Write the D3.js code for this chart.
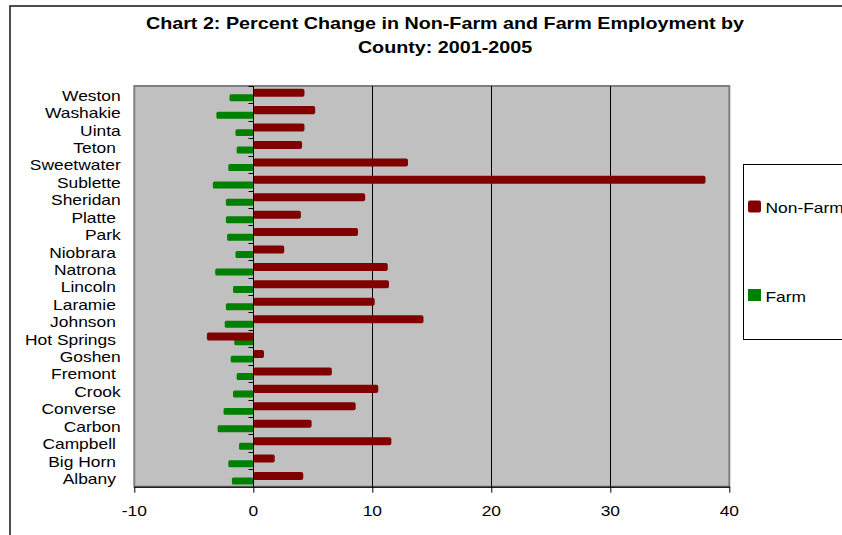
<!DOCTYPE html>
<html><head><meta charset="utf-8">
<script src="https://cdn.jsdelivr.net/npm/d3@7"></script>
<style>
body{margin:0;background:#fff}
svg{display:block}
text{font-family:"Liberation Sans",Arial,sans-serif;white-space:pre;fill:#000}
</style>
</head><body><div id="chart"></div>
<script>
// Data (top to bottom as shown)
const categories = ["Weston","Washakie","Uinta","Teton ","Sweetwater","Sublette","Sheridan","Platte ","Park","Niobrara ","Natrona ","Lincoln ","Laramie ","Johnson ","Hot Springs ","Goshen","Fremont ","Crook","Converse ","Carbon","Campbell ","Big Horn ","Albany "];
const nonFarm = [4.3,5.2,4.3,4.1,13.0,38.0,9.4,4.0,8.8,2.6,11.3,11.4,10.2,14.3,-3.9,0.9,6.6,10.5,8.6,4.9,11.6,1.8,4.2];
const farm = [-2.0,-3.1,-1.5,-1.4,-2.1,-3.4,-2.3,-2.3,-2.2,-1.5,-3.2,-1.7,-2.3,-2.4,-1.6,-1.9,-1.4,-1.7,-2.5,-3.0,-1.2,-2.1,-1.8];
const xTicks = [-10,0,10,20,30,40];
const seriesNames = ["Non-Farm","Farm"];
const seriesColors = ["#800000","#008000"];
const titleLines = ["Chart 2: Percent Change in Non-Farm and Farm Employment by","County: 2001-2005"];

const W = 842, H = 535, SX = 1.16;
const svg = d3.select("#chart").append("svg").attr("width", W).attr("height", H);
svg.append("rect").attr("width", W).attr("height", H).attr("fill", "#fff");

// outer chart frame
svg.append("rect").attr("x", 10).attr("y", 6).attr("width", 1000).attr("height", 700)
  .attr("fill", "none").attr("stroke", "#222").attr("stroke-width", 1.6);

const x = d3.scaleLinear().domain([-10, 40]).range([134.3, 729.3]);
const y = d3.scaleBand().domain(categories).range([86, 486.7]);
const bw = y.bandwidth();

function stext(str, tx, ty, anchor, size, weight) {
  return svg.append("text")
    .attr("transform", `translate(${tx},${ty}) scale(${SX},1)`)
    .attr("xml:space", "preserve")
    .attr("text-anchor", anchor)
    .attr("font-size", size)
    .attr("font-weight", weight || "normal")
    .text(str);
}

// title
titleLines.forEach((t, i) => stext(t, 445, 29 + i * 24, "middle", 17, "bold"));

// plot area
const [px0, px1] = x.range();
const [py0, py1] = y.range();
svg.append("rect").attr("x", px0).attr("y", py0).attr("width", px1 - px0).attr("height", py1 - py0)
  .attr("fill", "#C0C0C0").attr("stroke", "#808080").attr("stroke-width", 2);

// gridlines
svg.append("g").selectAll("line").data(xTicks.filter(d => d > 0 && d < 40)).join("line")
  .attr("x1", d => Math.round(x(d)) + 0.5).attr("x2", d => Math.round(x(d)) + 0.5)
  .attr("y1", py0).attr("y2", py1).attr("stroke", "#000").attr("stroke-width", 1);

// bars: farm first, non-farm on top
const rows = categories.map((c, i) => ({c, nf: nonFarm[i], f: farm[i]}));
svg.append("g").selectAll("rect").data(rows).join("rect")
  .attr("x", d => x(Math.min(0, d.f))).attr("width", d => Math.abs(x(d.f) - x(0)))
  .attr("y", d => y(d.c) + 0.477 * bw).attr("height", 0.40 * bw)
  .attr("rx", 1.5).attr("fill", seriesColors[1]);
svg.append("g").selectAll("rect").data(rows).join("rect")
  .attr("x", d => x(Math.min(0, d.nf))).attr("width", d => Math.abs(x(d.nf) - x(0)))
  .attr("y", d => y(d.c) + 0.155 * bw).attr("height", 0.46 * bw)
  .attr("rx", 2).attr("fill", seriesColors[0]);

// category axis at zero
const zx = Math.round(x(0)) + 0.5;
svg.append("line").attr("x1", zx).attr("x2", zx).attr("y1", py0).attr("y2", py1)
  .attr("stroke", "#000").attr("stroke-width", 1);
const bounds = categories.map(c => y(c)).concat([py1]);
svg.append("g").selectAll("line").data(bounds).join("line")
  .attr("x1", zx - 5).attr("x2", zx).attr("y1", d => Math.round(d) + 0.5).attr("y2", d => Math.round(d) + 0.5)
  .attr("stroke", "#000").attr("stroke-width", 1);

// category labels
categories.forEach(c => stext(c, 120.7, y(c) + bw / 2 + 6, "end", 15));

// value axis
const ax = svg.append("g").attr("transform", `translate(0,${py1})`)
  .call(d3.axisBottom(x).tickValues(xTicks).tickSize(6).tickSizeOuter(0).tickFormat(() => ""));
ax.select(".domain").attr("stroke", "#222").attr("stroke-width", 1.5);
ax.selectAll(".tick line").attr("stroke", "#000");
xTicks.forEach(t => stext(String(t), x(t), 516, "middle", 15));

// legend
svg.append("rect").attr("x", 743.5).attr("y", 164.5).attr("width", 200).attr("height", 175)
  .attr("fill", "#fff").attr("stroke", "#000").attr("stroke-width", 1);
const legY = [213, 301.5];
seriesNames.forEach((s, i) => {
  svg.append("rect").attr("x", 748).attr("y", legY[i] - 12.5).attr("width", 13).attr("height", 12)
    .attr("rx", i === 0 ? 2 : 0).attr("fill", seriesColors[i]);
  stext(s, 765.5, legY[i], "start", 15);
});
</script>
</body></html>
